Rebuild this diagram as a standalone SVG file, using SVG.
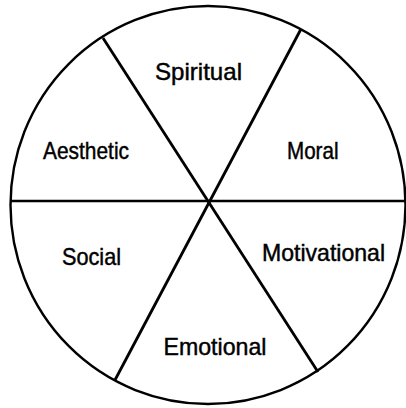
<svg xmlns="http://www.w3.org/2000/svg" width="406" height="408" viewBox="0 0 406 408">
<style>
.rim{fill:none;stroke:#000;stroke-width:2.4}
.spoke{fill:none;stroke:#000;stroke-width:2.8;stroke-linecap:butt}
.lbl{font-family:"Liberation Sans",Arial,Helvetica,sans-serif;font-size:24px;fill:#000;stroke:#000;stroke-width:0.45;text-anchor:start}
</style>
<rect width="406" height="408" fill="#fff"/>
<g id="wheel">
<ellipse class="rim" cx="208" cy="205" rx="197.5" ry="199"/>
</g>
<g id="connectors">
<line class="spoke" x1="103" y1="38" x2="318" y2="372"/>
<line class="spoke" x1="301" y1="29" x2="115" y2="380"/>
<line class="spoke" x1="10" y1="201" x2="406" y2="201" style="stroke-width:2.3"/>
</g>
<g id="spiritual"><text class="lbl" x="155" y="80" textLength="87" lengthAdjust="spacingAndGlyphs">Spiritual</text></g>
<g id="aesthetic"><text class="lbl" x="43" y="159" textLength="86" lengthAdjust="spacingAndGlyphs">Aesthetic</text></g>
<g id="moral"><text class="lbl" x="287" y="159" textLength="51.5" lengthAdjust="spacingAndGlyphs">Moral</text></g>
<g id="social"><text class="lbl" x="62" y="265" textLength="59" lengthAdjust="spacingAndGlyphs">Social</text></g>
<g id="motivational"><text class="lbl" x="262" y="260.5" textLength="123" lengthAdjust="spacingAndGlyphs">Motivational</text></g>
<g id="emotional"><text class="lbl" x="163.5" y="355" textLength="103" lengthAdjust="spacingAndGlyphs">Emotional</text></g>
</svg>
